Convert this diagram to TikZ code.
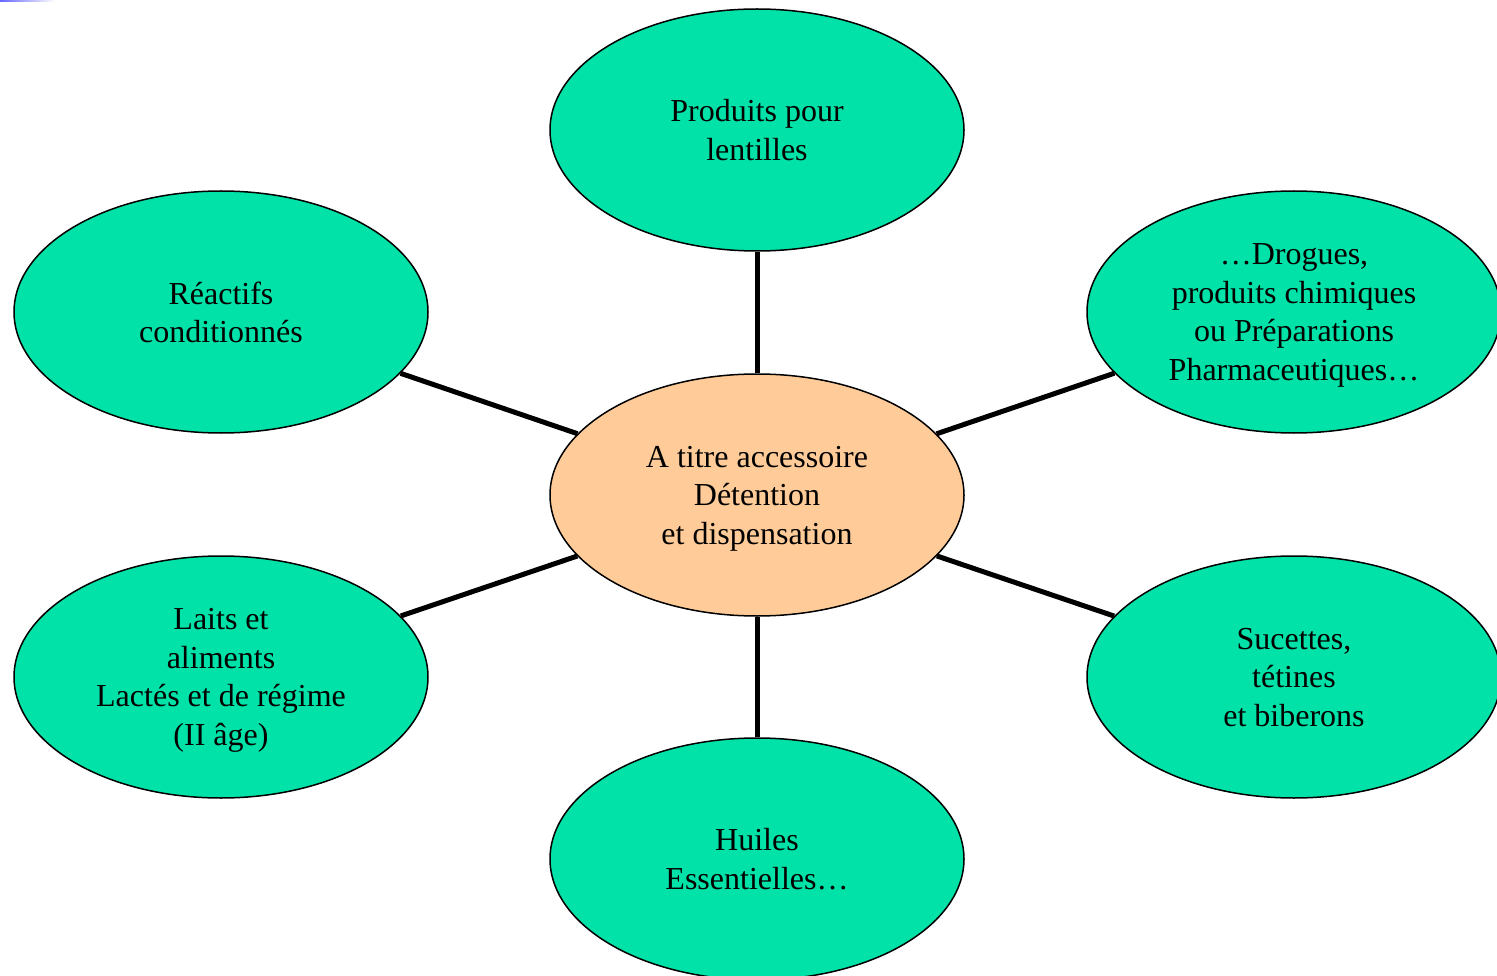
\documentclass[tikz,border=0pt]{standalone}
\usepackage{fontspec}
\setmainfont{Liberation Serif}
\usepackage{tikz}
\usetikzlibrary{shapes.geometric}

\definecolor{leafgreen}{RGB}{0,226,168}
\definecolor{hubpeach}{RGB}{255,204,153}

\begin{document}
\begin{tikzpicture}[x=1pt,y=-1pt,
    bubble/.style={ellipse,draw=black,line width=1.5pt,fill=leafgreen,
      minimum width=414pt,minimum height=242pt,inner sep=0pt,align=center,
      text depth=0pt,font=\fontsize{32}{38.5}\selectfont},
    hub/.style={bubble,fill=hubpeach},
    link/.style={line width=5pt,black}]
    \useasboundingbox (0,0) rectangle (1497,976);
    \shade[left color=blue!60,right color=white] (0,0) rectangle (55,2);
    \node[hub] (centre) at (757,495) {A titre accessoire\\D\'etention\\et dispensation};
    \node[bubble] (lentilles) at (757,130) {Produits pour\\lentilles};
    \node[bubble] (reactifs) at (221,312) {R\'eactifs\\conditionn\'es};
    \node[bubble] (drogues) at (1294,312) {\dots Drogues,\\produits chimiques\\ou Pr\'eparations\\Pharmaceutiques\dots};
    \node[bubble] (laits) at (221,677) {Laits et\\aliments\\Lact\'es et de r\'egime\\(II \^age)};
    \node[bubble] (sucettes) at (1294,677) {Sucettes,\\t\'etines\\et biberons};
    \node[bubble] (huiles) at (757,859) {Huiles\\Essentielles\dots};
    \foreach \leaf in {lentilles,reactifs,drogues,laits,sucettes,huiles}
      \draw[link] (centre) -- (\leaf);
  \end{tikzpicture}
\end{document}
